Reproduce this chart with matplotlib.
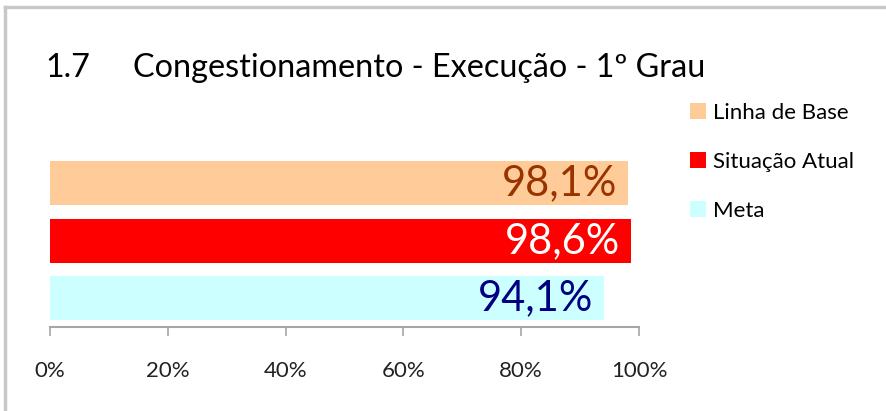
import matplotlib.pyplot as plt
from matplotlib.patches import Patch
from matplotlib.lines import Line2D

plt.rcParams['font.family'] = ['Lato', 'DejaVu Sans']

# dados
categorias = ['Linha de Base', 'Situação Atual', 'Meta']
valores = [98.1, 98.6, 94.1]
cores = ['#FFCC99', '#FF0000', '#CCFFFF']
cores_texto = ['#993300', '#FFFFFF', '#000080']
ticks = [0, 20, 40, 60, 80, 100]
tick_labels = ['0%', '20%', '40%', '60%', '80%', '100%']

W, H = 886, 411
fig = plt.figure(figsize=(W / 100, H / 100), dpi=100)

# moldura (so topo e esquerda visiveis)
fig.add_artist(Line2D([5 / W, 1], [1 - 7.5 / H] * 2, color='#C8C8C8', lw=2.5))
fig.add_artist(Line2D([5 / W] * 2, [0, 1 - 7.5 / H], color='#C8C8C8', lw=2.5))

# titulo
fig.text(45 / W, 1 - 77 / H, '1.7', fontsize=23.3, va='baseline')
fig.text(133 / W, 1 - 77 / H, 'Congestionamento - Execução - 1º Grau',
         fontsize=23.3, va='baseline')

ax = fig.add_axes([50 / W, 84 / H, 589 / W, 172.5 / H])
y = list(range(len(categorias)))
ax.barh(y, valores, height=0.765, color=cores)
ax.set_xlim(0, 100)
ax.set_ylim(2.5, -0.5)

for i, v in enumerate(valores):
    ax.text(v - 1.8, i, ('%.1f%%' % v).replace('.', ','), ha='right',
            va='center', fontsize=30, color=cores_texto[i])

for s in ['top', 'right', 'left']:
    ax.spines[s].set_visible(False)
ax.spines['bottom'].set_color('#A6A6A6')
ax.spines['bottom'].set_linewidth(1.5)
ax.set_yticks([])
ax.set_xticks(ticks)
ax.set_xticklabels(tick_labels, fontsize=16, color='#222222')
ax.tick_params(axis='x', direction='out', length=6.5, width=1.2,
               color='#A6A6A6', pad=18)

# legenda
handles = [Patch(facecolor=c, edgecolor='none') for c in cores]
fig.legend(handles, categorias, loc='upper left',
           bbox_to_anchor=(690 / W, 1 - 103 / H), frameon=False, fontsize=16,
           labelspacing=1.3, handlelength=0.72, handleheight=0.72,
           handletextpad=0.32, borderaxespad=0, borderpad=0)

fig.savefig('out.png', dpi=100)
